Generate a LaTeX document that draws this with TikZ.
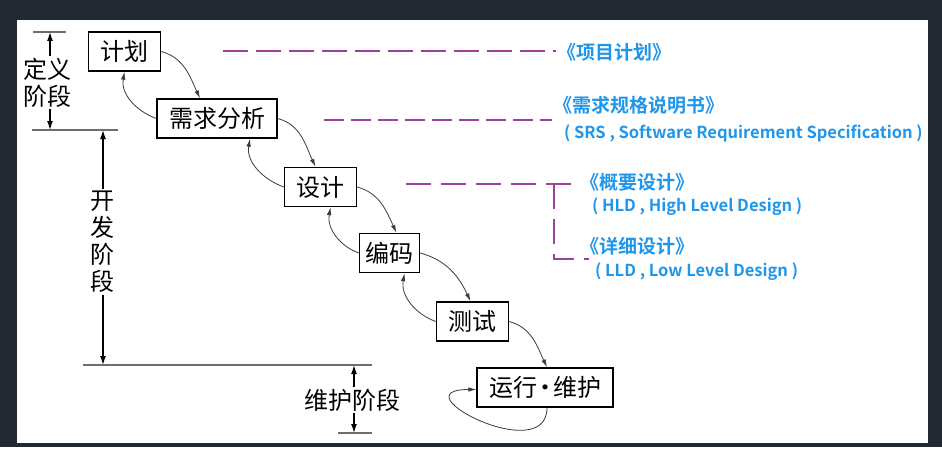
\documentclass[tikz,border=0pt]{standalone}
\usepackage{fontspec}
\setmainfont{Noto Sans CJK SC}[BoldFont={Noto Sans CJK SC Bold}]
\usetikzlibrary{arrows.meta}
\definecolor{screen}{RGB}{35,41,50}
\definecolor{docline}{RGB}{158,64,158}
\definecolor{docblue}{RGB}{32,150,235}
\definecolor{flowgray}{RGB}{60,60,60}
\definecolor{boundgray}{RGB}{110,110,110}

\begin{document}
\begin{tikzpicture}[
            x=1pt, y=1pt,
            stage/.style={
                draw,
                line width=1.4pt,
                fill=white,
                minimum height=39pt,
                inner xsep=12pt,
                inner ysep=0pt,
                font=\fontsize{24}{28}\selectfont
            },
            phase/.style={
                align=center,
                inner sep=2pt,
                font=\fontsize{24}{27}\selectfont
            },
            flow/.style={
                draw=flowgray,
                line width=0.8pt,
                -{Latex[length=8pt,width=4.5pt]}
            },
            span/.style={
                line width=1.3pt,
                -{Latex[length=9pt,width=6pt]}
            },
            bound/.style={
                draw=boundgray,
                line width=1.2pt
            },
            doclink/.style={
                draw=docline,
                line width=2.4pt
            },
            doctitle/.style={
                anchor=west,
                inner xsep=2pt,
                inner ysep=0pt,
                text=docblue,
                font=\fontsize{19}{22}\selectfont\bfseries
            },
            docsub/.style={
                anchor=west,
                inner xsep=0pt,
                inner ysep=0pt,
                text=docblue,
                font=\fontsize{16.5}{20}\selectfont\bfseries
            }
        ]
            % screen frame
            \fill[screen] (0,0) rectangle (942,-447);
            \fill[white] (17,-20) rectangle (928,-443);

            % waterfall stages
            \node[stage] (plan) at (124.5,-51.5) {计划};
            \node[stage] (req) at (217,-118.5) {需求分析};
            \node[stage] (design) at (320.5,-187) {设计};
            \node[stage, inner xsep=6pt] (code) at (389.5,-253) {编码};
            \node[stage] (test) at (472.5,-321.5) {测试};
            \node[stage] (run) at (545,-387.5) {运行\kern-4pt·\kern-4pt维护};

            % forward and feedback arrows
            \draw[flow] (plan.east) to[out=-15, in=115] ([xshift=-17pt]req.north);
            \draw[flow] (req.west) to[out=160, in=-100] (plan.south);
            \draw[flow] (req.east) to[out=-15, in=115] ([xshift=-5pt]design.north);
            \draw[flow] (design.west) to[out=160, in=-100] ([xshift=33pt]req.south);
            \draw[flow] (design.east) to[out=-15, in=115] ([xshift=7pt]code.north);
            \draw[flow] (code.west) to[out=160, in=-100] ([xshift=10pt]design.south);
            \draw[flow] (code.east) to[out=-15, in=115] ([xshift=-2pt]test.north);
            \draw[flow] (test.west) to[out=160, in=-100] ([xshift=15pt]code.south);
            \draw[flow] (test.east) to[out=-15, in=115] ([xshift=2pt]run.north);
            \draw[flow] ([xshift=2pt]run.south) .. controls +(0,-60) and +(-80,0) .. ([yshift=-2pt]run.west);

            % phase scale on the left
            \coordinate (deftop) at (50,-32);
            \coordinate (defbot) at (50,-130);
            \coordinate (devtop) at (103,-130);
            \coordinate (devbot) at (103,-365);
            \coordinate (mnttop) at (354,-365);
            \coordinate (mntbot) at (354,-433);
            \draw[bound] (33,-32) -- (66,-32);
            \draw[bound] (32,-130) -- (118,-130);
            \draw[bound] (83,-365) -- (372,-365);
            \draw[bound] (338,-433) -- (372,-433);

            \node[phase] (defphase) at (47.5,-82.5) {定义\\阶段};
            \node[phase] (devphase) at (102,-242) {开\\发\\阶\\段};
            \node[phase] (mntphase) at (352,-400) {维护阶段};

            \draw[span] (defphase.north -| deftop) -- (deftop);
            \draw[span] (defphase.south -| defbot) -- (defbot);
            \draw[span] (devphase.north -| devtop) -- (devtop);
            \draw[span] (devphase.south -| devbot) -- (devbot);
            \draw[span] (mntphase.north -| mnttop) -- (mnttop);
            \draw[span] (mntphase.south -| mntbot) -- (mntbot);

            % documents
            \node[doctitle] (plandoc) at (555.5,-52) {《项目计划》};
            \node[doctitle] (srsdoc) at (551.5,-105) {《需求规格说明书》};
            \node[docsub] (srssub) at (564,-133) {( SRS , Software Requirement Specification )};
            \node[doctitle] (hlddoc) at (578.5,-182) {《概要设计》};
            \node[docsub] (hldsub) at (592,-207) {( HLD , High Level Design )};
            \node[doctitle] (llddoc) at (578.5,-246) {《详细设计》};
            \node[docsub] (lldsub) at (595,-272) {( LLD , Low Level Design )};

            \coordinate (planlink) at (223,-51);
            \coordinate (srslink) at (324,-120);
            \coordinate (designlink) at (406,-184);
            \coordinate (fork) at (554,-184);
            \coordinate (lldlink) at (589,-259);
            \draw[doclink, dash pattern=on 25pt off 8pt] (planlink) -- (planlink -| plandoc.west);
            \draw[doclink, dash pattern=on 20pt off 7pt] (srslink) -- (srslink -| srsdoc.west);
            \draw[doclink, dash pattern=on 25pt off 10pt] (designlink) -- (designlink -| hlddoc.west);
            \draw[doclink, dash pattern=on 25pt off 10pt] (fork) |- (lldlink);
        \end{tikzpicture}
\end{document}
